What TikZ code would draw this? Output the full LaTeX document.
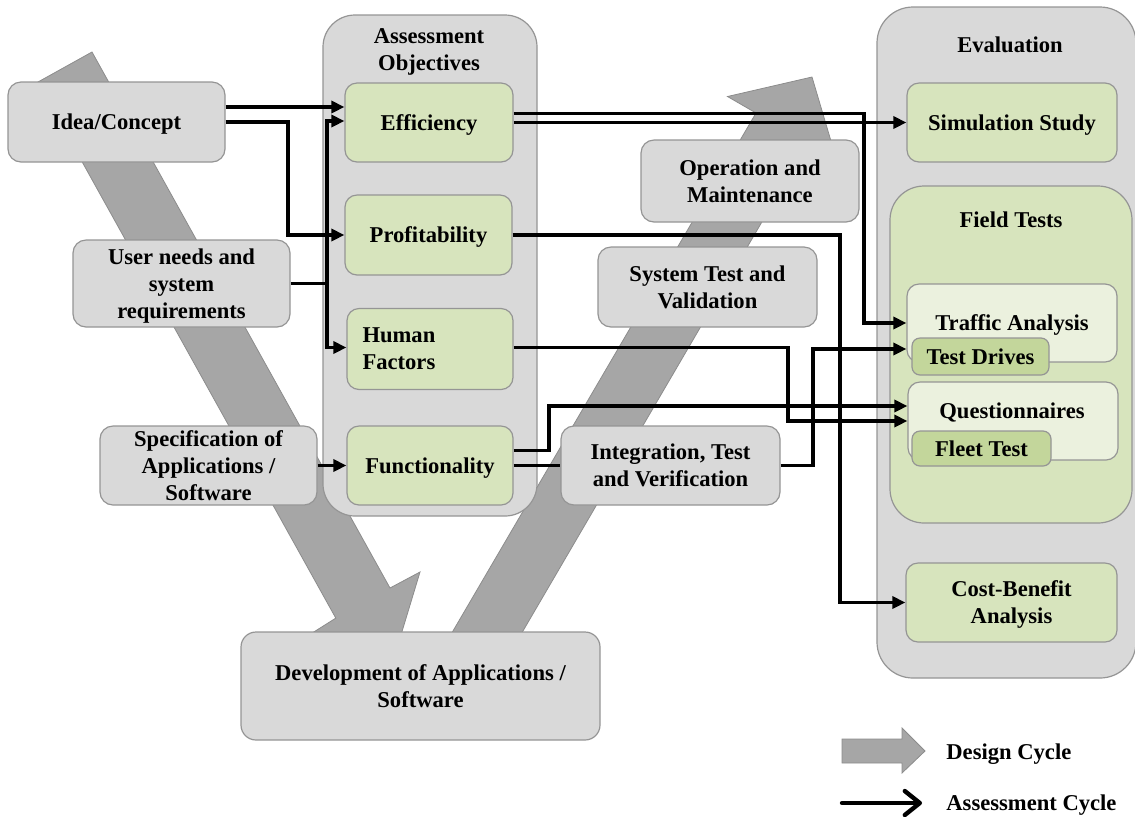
\documentclass[tikz,border=0pt]{standalone}
\usepackage{fontspec}
\setmainfont{Liberation Serif}
\usetikzlibrary{arrows.meta}
\definecolor{boxgray}{HTML}{D9D9D9}
\definecolor{edgegray}{HTML}{959595}
\definecolor{bandgray}{HTML}{A6A6A6}
\definecolor{bandedge}{HTML}{8C8C8C}
\definecolor{objgreen}{HTML}{D7E4BD}
\definecolor{palegreen}{HTML}{EBF1DE}
\definecolor{deepgreen}{HTML}{C3D69B}
\tikzset{
  every node/.style={font=\fontsize{11.3pt}{13.5pt}\selectfont\bfseries, inner sep=0pt, align=center, text depth=0pt},
  stage/.style={draw=edgegray, fill=boxgray, line width=0.6pt, rounded corners=6.5pt},
  panel/.style={draw=edgegray, fill=boxgray, line width=0.6pt, rounded corners=16pt},
  goal/.style={draw=edgegray, fill=objgreen, line width=0.6pt, rounded corners=6pt},
  method/.style={draw=edgegray, fill=palegreen, line width=0.6pt, rounded corners=6pt},
  trial/.style={draw=edgegray, fill=deepgreen, line width=0.6pt, rounded corners=4pt},
  band/.style={fill=bandgray, draw=bandedge, line width=0.4pt},
  flow/.style={line width=1.9pt, -{Triangle[length=6.5pt,width=6pt]}},
  link/.style={line width=1.9pt},
  legendflow/.style={line width=2.2pt, line cap=round, -{Straight Barb[length=7.5pt,width=12pt,round]}}
}
\begin{document}
\begin{tikzpicture}[x=0.5pt,y=-0.5pt]
\useasboundingbox (0,0) rectangle (1135,816);

% design cycle: descending and ascending bands of the V
\filldraw[band] (37.8,82.1) -- (92,52) -- (390,588) -- (420,572) -- (394,658)
  -- (309,635) -- (335.8,618.1) -- cycle;
\filldraw[band] (436,660) -- (756,113) -- (727.5,96.5) -- (812,77) -- (836.5,159.7)
  -- (808,143) -- (506,660) -- cycle;

% containers
\node[panel, minimum width=107pt, minimum height=250.5pt] (ao) at (430,265.5) {};
\node (aoT) at (429,50) {Assessment\\Objectives};
\node[panel, rounded corners=18pt, minimum width=129.5pt, minimum height=335.5pt] (ev) at (1006.5,342.5) {};
\node (evT) at (1010,45) {Evaluation};

% stages of the V
\node[stage, minimum width=108.5pt, minimum height=40pt] (idea) at (116.5,122) {Idea/Concept};
\node[stage, minimum width=108.5pt, minimum height=43.5pt] (un) at (181.5,283.5) {User needs and\\system\\requirements};
\node[stage, minimum width=108.5pt, minimum height=39.5pt] (spec) at (208.5,465.5) {Specification of\\Applications /\\Software};
\node[stage, rounded corners=7.5pt, minimum width=179.5pt, minimum height=54pt] (dev) at (420.5,686) {Development of Applications /\\Software};
\node[stage, minimum width=109.5pt, minimum height=39.5pt] (it) at (670.5,465.5) {Integration, Test\\and Verification};
\node[stage, minimum width=109.5pt, minimum height=40pt] (st) at (707.5,287) {System Test and\\Validation};
\node[stage, minimum width=109pt, minimum height=41pt] (om) at (750,181) {Operation and\\Maintenance};

% assessment objectives
\node[goal, minimum width=84pt, minimum height=39.5pt] (eff) at (429,122.5) {Efficiency};
\node[goal, minimum width=83.5pt, minimum height=40pt] (pr) at (428.5,235) {Profitability};
\node[goal, minimum width=83pt, minimum height=40.5pt, text width=67.5pt, align=left, text depth={}] (hf) at (430,349) {Human\\Factors};
\node[goal, minimum width=83pt, minimum height=39.5pt] (fu) at (430,465.5) {Functionality};

% evaluation methods
\node[goal, minimum width=105pt, minimum height=39.5pt] (sim) at (1012,122.5) {Simulation Study};
\node[goal, rounded corners=17pt, minimum width=121pt, minimum height=168.5pt] (ft) at (1011,354.5) {};
\node (ftT) at (1011,220) {Field Tests};
\node[method, minimum width=105pt, minimum height=39pt] (ta) at (1012,323) {Traffic Analysis};
\node[trial, minimum width=68.5pt, minimum height=18.5pt] (td) at (980.5,356.5) {Test Drives};
\node[method, minimum width=105pt, minimum height=39pt] (qu) at (1013,421) {};
\node (quT) at (1012,411) {Questionnaires};
\node[trial, minimum width=69.5pt, minimum height=17.5pt] (fl) at (981.5,448.5) {Fleet Test};
\node[goal, minimum width=105.5pt, minimum height=39.5pt] (cb) at (1011.5,602.5) {Cost-Benefit\\Analysis};

% assessment cycle connectors
\draw[flow] ([yshift=7.5pt]idea.east) -- ([yshift=7.5pt]idea.east -| eff.west);
\draw[flow] (idea.east) -- ++(62,0) |- (pr.west);
\draw[link] (un.east) -- ++(36.5,0) coordinate (fork);
\draw[flow] (fork) |- ([yshift=0.75pt]eff.west);
\draw[flow] (fork) |- ([yshift=0.75pt]hf.west);
\draw[flow] (spec.east) -- (fu.west);
\draw[flow] ([yshift=4.5pt]eff.east) -- ++(350,0) |- (ta.west);
\draw[flow] (eff.east) -- (sim.west);
\draw[flow] (pr.east) -- ++(327,0) |- (cb.west);
\draw[flow] ([yshift=0.75pt]hf.east) -- ++(274,0) |- (qu.west);
\draw[flow] ([yshift=7.5pt]fu.east) -- ++(35,0) |- ([yshift=7.5pt]qu.west);
\draw[link] (fu.east) -- (it.west);
\draw[flow] (it.east) -- ++(32,0) |- ([yshift=-13pt]ta.west);

% legend
\filldraw[band] (842,739) -- (902,739) -- (902,728) -- (925,751) -- (902,773) -- (902,763) -- (842,763) -- cycle;
\node[anchor=west] (lgD) at (946,752) {Design Cycle};
\coordinate (la) at (842,803);
\coordinate (lb) at (922,803);
\draw[legendflow] (la) -- (lb);
\node[anchor=west] (lgA) at (946,803) {Assessment Cycle};
\end{tikzpicture}
\end{document}
